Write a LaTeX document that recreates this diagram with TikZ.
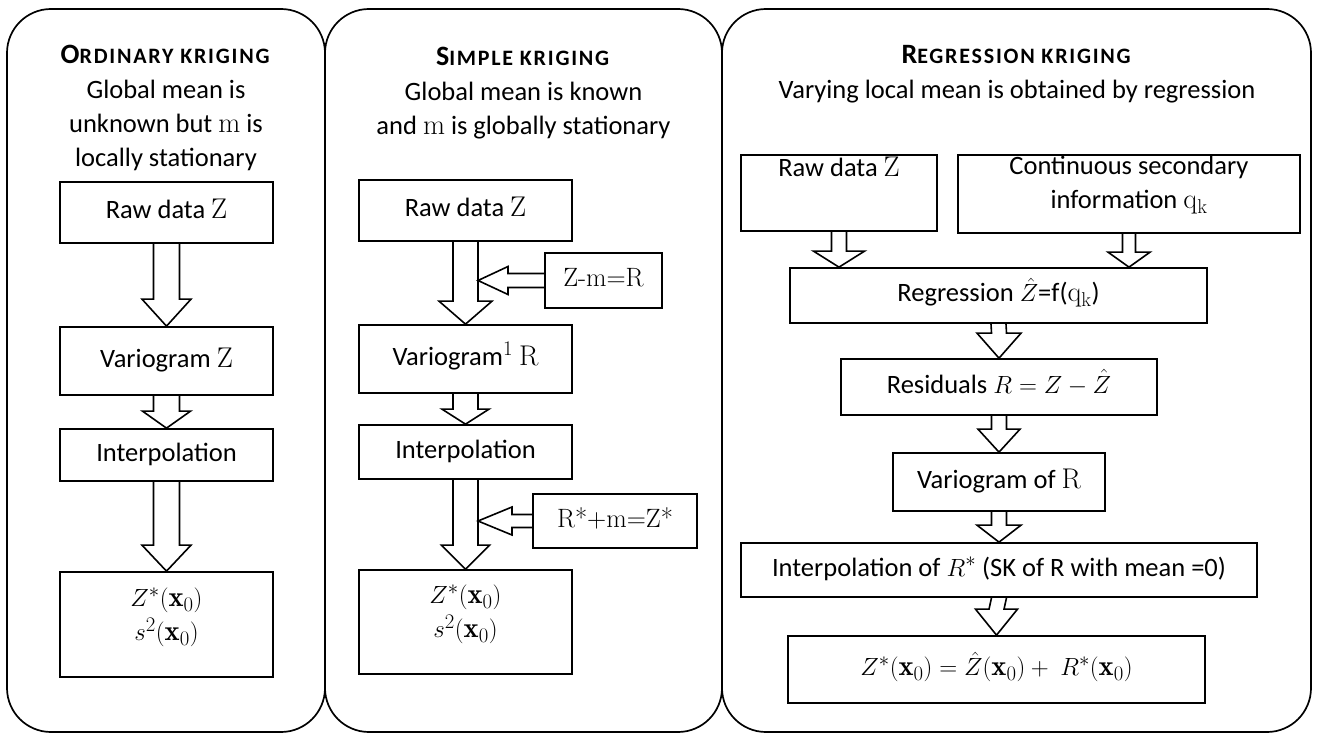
\documentclass[tikz,border=0pt]{standalone}
\usepackage{fontspec}
\newfontfamily\calibri{Carlito}
\usetikzlibrary{calc,positioning}
% math a little larger than the text around it
\DeclareMathSizes{26.5}{28.5}{20}{16}

% small caps made by hand: first letter full size, rest smaller capitals
\newcommand{\sctitle}[2]{\textbf{\addfontfeature{LetterSpace=8}\fontsize{28}{34}\selectfont #1{\fontsize{22}{34}\selectfont #2}}}

\tikzset{
	shaft w/.store in=\shaftw, shaft w=13,
	head w/.store in=\headw, head w=24,
	head l/.store in=\headl, head l=20,
	% hollow block arrow pointing down
	down block/.style={to path={
		($(\tikztostart)+(-\shaftw,0)$) -- ($(\tikztotarget)+(-\shaftw,-\headl)$)
		-- ($(\tikztotarget)+(-\headw,-\headl)$) -- (\tikztotarget)
		-- ($(\tikztotarget)+(\headw,-\headl)$) -- ($(\tikztotarget)+(\shaftw,-\headl)$)
		-- ($(\tikztostart)+(\shaftw,0)$)}},
	% hollow block arrow pointing left
	left block/.style={to path={
		($(\tikztostart)+(0,-\shaftw)$) -- ($(\tikztotarget)+(\headl,-\shaftw)$)
		-- ($(\tikztotarget)+(\headl,-\headw)$) -- (\tikztotarget)
		-- ($(\tikztotarget)+(\headl,\headw)$) -- ($(\tikztotarget)+(\headl,\shaftw)$)
		-- ($(\tikztostart)+(0,\shaftw)$)}},
}

\begin{document}
\begin{tikzpicture}[x=1pt,y=-1pt,
		every node/.style={font=\calibri\fontsize{26.5}{34}\selectfont},
		panel/.style={draw,line width=1.7pt,rounded corners=44pt},
		box/.style={draw,line width=1.7pt,inner sep=0pt,align=center},
		single/.style={text height=19pt,text depth=7pt},
		estimate/.style={text depth=21pt},
		header/.style={inner sep=0pt,align=center,anchor=north},
		block/.style={draw,line width=1.6pt}]
		\useasboundingbox (0,0) rectangle (1317,733);
		
		%Shape: three panels
		\draw[panel] (7,9) rectangle (325,732);
		\draw[panel] (325,9) rectangle (722,732);
		\draw[panel] (722,9) rectangle (1311,732);
		
		% Text Node: panel titles
		\node[header] (ok_head) at (166,45) {\sctitle{O}{RDINARY KRIGING}\\[1pt] Global mean is\\ unknown but $\mathrm{m}$ is\\ locally stationary};
		\node[header] (sk_head) at (523.5,47) {\sctitle{S}{IMPLE KRIGING}\\[1pt] Global mean is known\\ and $\mathrm{m}$ is globally stationary};
		\node[header] (rk_head) at (1017,45) {\sctitle{R}{EGRESSION KRIGING}\\[1pt] Varying local mean is obtained by regression};
		
		%Ordinary kriging
		\node[box,single,minimum width=213pt,minimum height=61pt] (ok_raw) at (166.5,212.5) {Raw data $\mathrm{Z}$};
		\node[box,single,minimum width=213pt,minimum height=68pt] (ok_vario) at (166.5,361) {Variogram $\mathrm{Z}$};
		\node[box,single,minimum width=213pt,minimum height=52pt] (ok_interp) at (166.5,455) {Interpolation};
		\node[box,estimate,minimum width=213pt,minimum height=105pt] (ok_res) at (166.5,624.5) {$Z^*(\mathbf{x}_0)$\\ $s^2(\mathbf{x}_0)$};
		\draw[block,shaft w=13,head w=24.5,head l=27] (ok_raw.south) to[down block] (ok_vario.north);
		\draw[block,shaft w=13,head w=24,head l=17] (ok_vario.south) to[down block] (ok_interp.north);
		\draw[block,shaft w=13,head w=24.5,head l=26] (ok_interp.south) to[down block] (ok_res.north);
		
		%Simple kriging
		\node[box,single,minimum width=213pt,minimum height=61pt] (sk_raw) at (465.5,210.5) {Raw data $\mathrm{Z}$};
		\node[box,single,minimum width=213pt,minimum height=68pt] (sk_vario) at (465.5,359) {Variogram$^1$ $\mathrm{R}$};
		\node[box,single,minimum width=213pt,minimum height=54pt] (sk_interp) at (465.5,452) {Interpolation};
		\node[box,estimate,minimum width=213pt,minimum height=104pt] (sk_res) at (465.5,622) {$Z^*(\mathbf{x}_0)$\\ $s^2(\mathbf{x}_0)$};
		\node[box,single,minimum width=117pt,minimum height=55pt] (sk_zmr) at (603.5,280.5) {\rmfamily Z-m=R};
		\node[box,single,minimum width=164pt,minimum height=54pt] (sk_back) at (615,521) {\rmfamily R*+m=Z*};
		\coordinate (sk_in1) at ($(sk_raw.south |- sk_zmr.west)+(12.5,0)$);
		\coordinate (sk_in2) at ($(sk_raw.south |- sk_back.west)+(12.5,0)$);
		\draw[block,shaft w=12.5,head w=26.5,head l=23] (sk_raw.south) to[down block] (sk_vario.north);
		\draw[block,shaft w=12.5,head w=23.5,head l=15] (sk_vario.south) to[down block] (sk_interp.north);
		\draw[block,shaft w=12.5,head w=24,head l=24] (sk_interp.south) to[down block] (sk_res.north);
		\draw[block,shaft w=7,head w=14,head l=30] (sk_zmr.west) to[left block] (sk_in1);
		\draw[block,shaft w=6.5,head w=14,head l=34] (sk_back.west) to[left block] (sk_in2);
		
		%Regression kriging
		\node[box,text height=19pt,text depth=52pt,minimum width=196pt,minimum height=76pt] (rk_raw) at (839,193) {Raw data $\mathrm{Z}$};
		\node[box,text depth=24pt,minimum width=342pt,minimum height=78pt] (rk_sec) at (1129,194) {Continuous secondary\\ information $\mathrm{q}_\mathrm{k}$};
		\node[box,single,minimum width=417pt,minimum height=55pt] (rk_reg) at (998.5,295.5) {Regression $\hat{Z}$=f($\mathrm{q}_\mathrm{k}$)};
		\node[box,single,minimum width=316pt,minimum height=56pt] (rk_resid) at (999,387) {Residuals $R=Z-\hat{Z}$};
		\node[box,single,minimum width=212pt,minimum height=58pt] (rk_vario) at (999,482) {Variogram of $\mathrm{R}$};
		\node[box,single,minimum width=516pt,minimum height=54pt] (rk_interp) at (999,570) {Interpolation of $R^*$ (SK of R with mean =0)};
		\node[box,single,minimum width=417pt,minimum height=67pt] (rk_final) at (996.5,669.5) {$Z^*(\mathbf{x}_0)=\hat{Z}(\mathbf{x}_0)+\ R^*(\mathbf{x}_0)$};
		\coordinate (rk_in1) at (rk_raw.south |- rk_reg.north);
		\coordinate (rk_in2) at (rk_sec.south |- rk_reg.north);
		\draw[block,shaft w=7.5,head w=25.5,head l=16] (rk_raw.south) to[down block] (rk_in1);
		\draw[block,shaft w=6.5,head w=21,head l=15] (rk_sec.south) to[down block] (rk_in2);
		\draw[block,shaft w=7.5,head w=22,head l=25] (rk_reg.south) to[down block] (rk_resid.north);
		\draw[block,shaft w=7.5,head w=21,head l=23] (rk_resid.south) to[down block] (rk_vario.north);
		\draw[block,shaft w=7.5,head w=22,head l=17] (rk_vario.south) to[down block] (rk_interp.north);
		\draw[block,shaft w=7.5,head w=21,head l=26] (rk_interp.south) to[down block] (rk_final.north);
		
\end{tikzpicture}
\end{document}
